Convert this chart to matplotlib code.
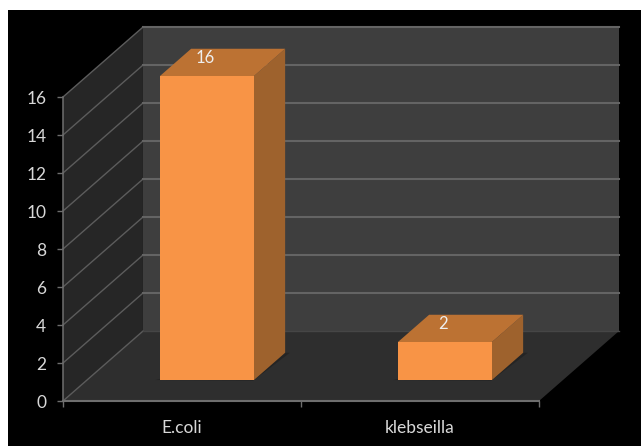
import matplotlib
matplotlib.use("Agg")
import matplotlib.pyplot as plt
from matplotlib.patches import Polygon, Rectangle

categories = ["E.coli", "klebseilla"]
values = [16, 2]
yticks = [0, 2, 4, 6, 8, 10, 12, 14, 16]

# depth of the box in axis units
depth_x = 0.336
depth_y = 3.68
bar_width = 0.395
bar_front = 0.30
bar_back = 0.69

plt.rcParams["font.family"] = ["Lato", "DejaVu Sans"]

W, H = 641, 446
fig = plt.figure(figsize=(W / 100, H / 100), dpi=100, facecolor="white")
fig.patches.append(Rectangle((8 / W, 0), 1, 1 - 10 / H, transform=fig.transFigure,
                             facecolor="black", edgecolor="none", zorder=-5))
ax = fig.add_axes([63 / W, (H - 401) / H, 476 / W, 304 / H])
ax.patch.set_visible(False)
ax.set_xlim(0, 2)
ax.set_ylim(0, 16)


def shift(x, y, d):
    return (x + d * depth_x, y + d * depth_y)


def poly(points, color, z, edge="none"):
    ax.add_patch(Polygon(points, closed=True, facecolor=color, edgecolor=edge,
                         linewidth=0.6, clip_on=False, zorder=z))


# walls and floor
poly([shift(0, 0, 0), shift(0, 16, 0), shift(0, 16, 1), shift(0, 0, 1)], "#262626", 1)
poly([shift(0, 0, 1), shift(0, 16, 1), shift(2, 16, 1), shift(2, 0, 1)], "#3e3e3e", 1)
poly([shift(0, 0, 0), shift(2, 0, 0), shift(2, 0, 1), shift(0, 0, 1)], "#2e2e2e", 1)

# gridlines across both walls
for t in yticks:
    x0, y0 = shift(0, t, 0)
    x1, y1 = shift(0, t, 1)
    x2, y2 = shift(2, t, 1)
    ax.plot([x0, x1], [y0, y1], color="#5c5c5c", lw=1.0, clip_on=False, zorder=2)
    if t > 0:
        ax.plot([x1, x2], [y1, y2], color="#646464", lw=1.5, clip_on=False, zorder=2)
    else:
        ax.plot([x1, x2], [y1, y2], color="#464646", lw=1.0, clip_on=False, zorder=2)

# bars
for i, v in enumerate(values):
    mid = i + 0.504
    left = mid - bar_width / 2
    right = mid + bar_width / 2

    # soft shadow on the floor
    poly([shift(left - 0.02, 0, bar_front), shift(right, 0, bar_front - 0.01),
          shift(right + 0.02, 0, bar_back), shift(right - 0.05, 0, bar_back)], "#242424", 3)

    # side, top, front faces
    poly([shift(right, 0, bar_front), shift(right, v, bar_front),
          shift(right, v, bar_back), shift(right, 0, bar_back)], "#9e622d", 4)
    poly([shift(left, v, bar_front), shift(right, v, bar_front),
          shift(right, v, bar_back), shift(left, v, bar_back)], "#bc7233", 4)
    poly([shift(left, 0, bar_front), shift(right, 0, bar_front),
          shift(right, v, bar_front), shift(left, v, bar_front)], "#f89446", 5)

    lx, ly = shift(mid, v, bar_back)
    ax.annotate(str(v), (lx, ly), xytext=(-33, -9), textcoords="offset pixels",
                ha="center", va="center", color="#eeeeee", fontsize=12, zorder=6,
                annotation_clip=False)

# axes lines, ticks and labels
for s in ["top", "right"]:
    ax.spines[s].set_visible(False)
for s in ["left", "bottom"]:
    ax.spines[s].set_color("#6e6e6e")
    ax.spines[s].set_zorder(7)
ax.spines["left"].set_linewidth(1.1)
ax.spines["bottom"].set_linewidth(1.5)

ax.set_yticks(yticks)
ax.set_yticklabels([str(t) for t in yticks])
ax.set_xticks([0, 1, 2])
ax.set_xticklabels([])
ax.set_xticks([0.5, 1.5], minor=True)
ax.set_xticklabels(categories, minor=True)
ax.tick_params(axis="y", length=4.5, width=1, color="#6e6e6e", labelcolor="#d8d8d8",
               labelsize=12.5, pad=7.5)
ax.tick_params(axis="x", which="major", length=4.5, width=1, color="#6e6e6e")
ax.tick_params(axis="x", which="minor", length=0, labelcolor="#d8d8d8", labelsize=12.5, pad=14)

fig.savefig("out.png", dpi=100, facecolor="white")
